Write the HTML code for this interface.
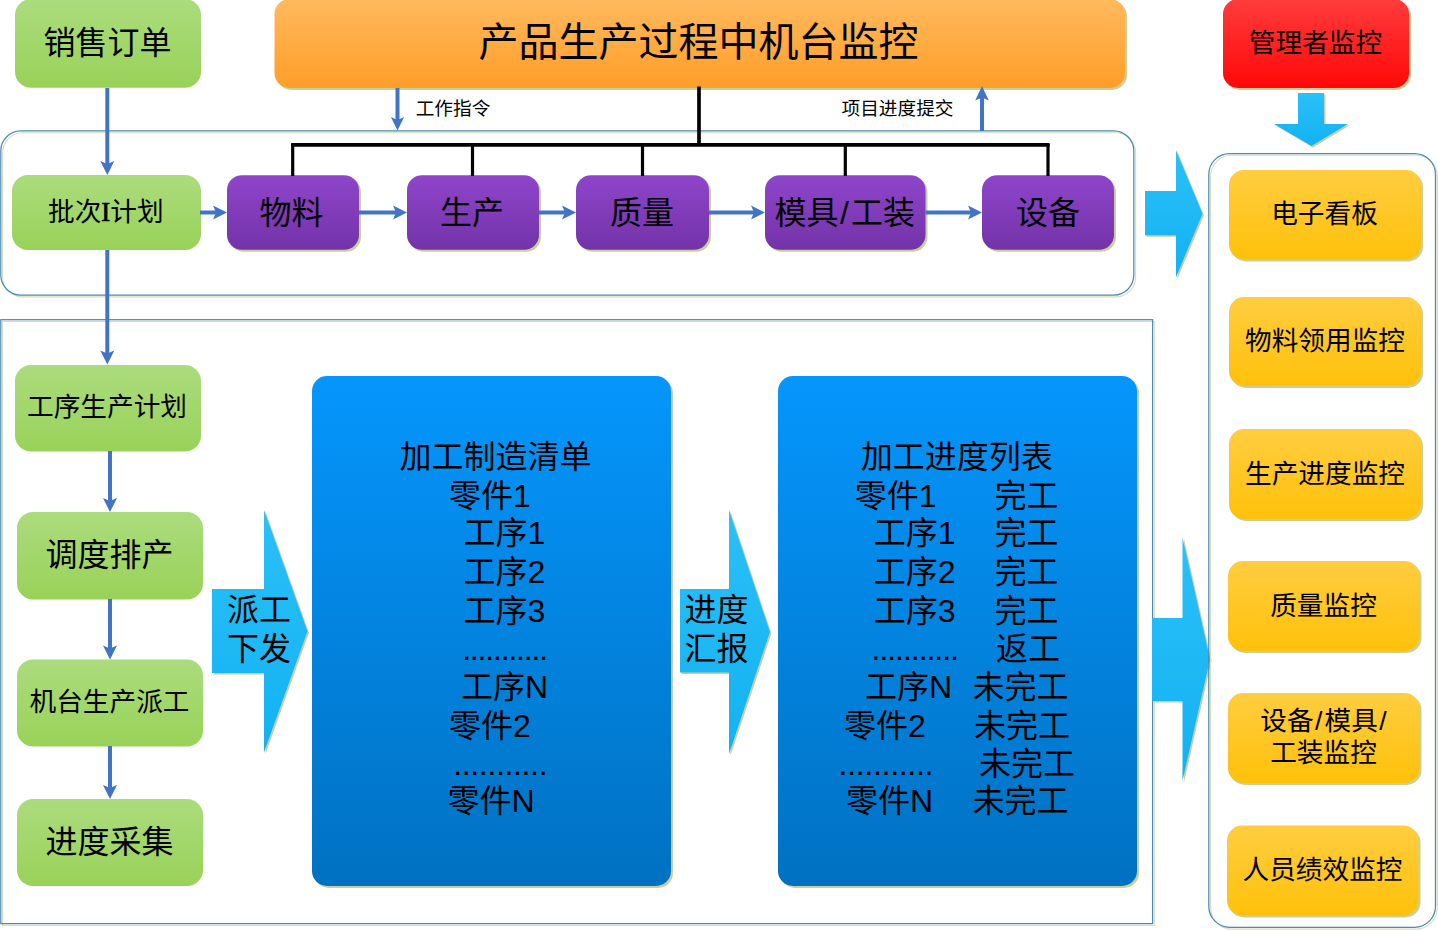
<!DOCTYPE html>
<html lang="zh-CN">
<head>
<meta charset="utf-8">
<title>产品生产过程中机台监控</title>
<style>
html,body{margin:0;padding:0;background:#fff;}
body{width:1438px;height:930px;overflow:hidden;}
svg{display:block;}
text{font-family:"Liberation Sans", "Noto Sans CJK SC", sans-serif;fill:#000;}
</style>
</head>
<body>
<svg width="1438" height="930" viewBox="0 0 1438 930">
<defs>
<linearGradient id="ggreen" x1="0" y1="0" x2="0" y2="1"><stop offset="0" stop-color="#abdc7d"/><stop offset="1" stop-color="#99d259"/></linearGradient>
<linearGradient id="gorange" x1="0" y1="0" x2="0" y2="1"><stop offset="0" stop-color="#ffb95e"/><stop offset="1" stop-color="#ff9e28"/></linearGradient>
<linearGradient id="gred" x1="0" y1="0" x2="0" y2="1"><stop offset="0" stop-color="#ff3c3c"/><stop offset="1" stop-color="#ff0808"/></linearGradient>
<linearGradient id="gpurple" x1="0" y1="0" x2="0" y2="1"><stop offset="0" stop-color="#8e45ca"/><stop offset="1" stop-color="#7333a8"/></linearGradient>
<linearGradient id="gyellow" x1="0" y1="0" x2="0" y2="1"><stop offset="0" stop-color="#ffcd40"/><stop offset="1" stop-color="#ffc10a"/></linearGradient>
<linearGradient id="gblue" x1="0" y1="0" x2="0" y2="1"><stop offset="0" stop-color="#0596fc"/><stop offset="1" stop-color="#0071c2"/></linearGradient>
<linearGradient id="gcyan" x1="0" y1="0" x2="0" y2="1"><stop offset="0" stop-color="#2bc0f8"/><stop offset="1" stop-color="#12b2f2"/></linearGradient>
</defs>
<rect x="0" y="0" width="1438" height="930" fill="#ffffff"/>

<rect x="2.6" y="132.70000000000002" width="1133" height="164.2" rx="20" ry="20" fill="none" stroke="#d3e0bd" stroke-width="1.1"/>
<rect x="0.8" y="130.9" width="1133" height="164.2" rx="20" ry="20" fill="none" stroke="#4d89b5" stroke-width="1.25"/>
<rect x="2.6" y="321.5" width="1151.8" height="603.9" rx="0" ry="0" fill="none" stroke="#d3e0bd" stroke-width="1.1"/>
<rect x="0.8" y="319.7" width="1151.8" height="603.9" rx="0" ry="0" fill="none" stroke="#4d89b5" stroke-width="1.25"/>
<polygon points="1145,191 1176,191 1176,150.3 1202.5,213.8 1176,277.3 1176,235.3 1145,235.3" fill="#c8d098" transform="translate(1.5,1.5)"/>
<polygon points="1145,191 1176,191 1176,150.3 1202.5,213.8 1176,277.3 1176,235.3 1145,235.3" fill="url(#gcyan)"/>
<polygon points="1152,618 1182.5,618 1182.5,537.5 1210,659.25 1182.5,781 1182.5,701 1152,701" fill="#c8d098" transform="translate(1.5,1.5)"/>
<polygon points="1152,618 1182.5,618 1182.5,537.5 1210,659.25 1182.5,781 1182.5,701 1152,701" fill="url(#gcyan)"/>
<rect x="1210.6" y="155.3" width="226.7" height="773.8" rx="21" ry="21" fill="none" stroke="#d3e0bd" stroke-width="1.1"/>
<rect x="1208.8" y="153.5" width="226.7" height="773.8" rx="21" ry="21" fill="none" stroke="#4d89b5" stroke-width="1.25"/>
<rect x="15" y="-1" width="186" height="88.8" rx="16" ry="16" fill="url(#ggreen)"/>
<rect x="276.5" y="1" width="850.5" height="89" rx="15" ry="15" fill="#c8d098"/><rect x="274.5" y="-1" width="850.5" height="89" rx="15" ry="15" fill="url(#gorange)"/>
<rect x="1225" y="1" width="186" height="89" rx="15" ry="15" fill="#c8d098"/><rect x="1223" y="-1" width="186" height="89" rx="15" ry="15" fill="url(#gred)"/>
<rect x="12" y="175" width="189" height="75" rx="16" ry="16" fill="url(#ggreen)"/>
<rect x="15" y="365" width="186" height="86.5" rx="16" ry="16" fill="url(#ggreen)"/>
<rect x="17" y="512" width="186" height="87.5" rx="16" ry="16" fill="url(#ggreen)"/>
<rect x="17" y="659.5" width="186" height="87" rx="16" ry="16" fill="url(#ggreen)"/>
<rect x="17" y="799" width="186" height="87" rx="16" ry="16" fill="url(#ggreen)"/>
<rect x="229" y="177.2" width="132" height="74.6" rx="15" ry="15" fill="#c8d098"/><rect x="227" y="175.2" width="132" height="74.6" rx="15" ry="15" fill="url(#gpurple)"/>
<rect x="409" y="177.2" width="132" height="74.6" rx="15" ry="15" fill="#c8d098"/><rect x="407" y="175.2" width="132" height="74.6" rx="15" ry="15" fill="url(#gpurple)"/>
<rect x="578" y="177.2" width="133" height="74.6" rx="15" ry="15" fill="#c8d098"/><rect x="576" y="175.2" width="133" height="74.6" rx="15" ry="15" fill="url(#gpurple)"/>
<rect x="767" y="177.2" width="160.5" height="74.6" rx="15" ry="15" fill="#c8d098"/><rect x="765" y="175.2" width="160.5" height="74.6" rx="15" ry="15" fill="url(#gpurple)"/>
<rect x="984" y="177.2" width="132" height="74.6" rx="15" ry="15" fill="#c8d098"/><rect x="982" y="175.2" width="132" height="74.6" rx="15" ry="15" fill="url(#gpurple)"/>
<rect x="1231" y="172" width="192" height="89.5" rx="15" ry="15" fill="#c8d098"/><rect x="1229" y="170" width="192" height="89.5" rx="15" ry="15" fill="url(#gyellow)"/>
<rect x="1231" y="299" width="192" height="89" rx="15" ry="15" fill="#c8d098"/><rect x="1229" y="297" width="192" height="89" rx="15" ry="15" fill="url(#gyellow)"/>
<rect x="1231" y="431" width="192" height="90" rx="15" ry="15" fill="#c8d098"/><rect x="1229" y="429" width="192" height="90" rx="15" ry="15" fill="url(#gyellow)"/>
<rect x="1230" y="563" width="191.5" height="90" rx="15" ry="15" fill="#c8d098"/><rect x="1228" y="561" width="191.5" height="90" rx="15" ry="15" fill="url(#gyellow)"/>
<rect x="1230" y="695" width="191.5" height="90" rx="15" ry="15" fill="#c8d098"/><rect x="1228" y="693" width="191.5" height="90" rx="15" ry="15" fill="url(#gyellow)"/>
<rect x="1229" y="827.5" width="191.5" height="90.0" rx="15" ry="15" fill="#c8d098"/><rect x="1227" y="825.5" width="191.5" height="90.0" rx="15" ry="15" fill="url(#gyellow)"/>
<rect x="314" y="378" width="359" height="510" rx="15" ry="15" fill="#c8d098"/><rect x="312" y="376" width="359" height="510" rx="15" ry="15" fill="url(#gblue)"/>
<rect x="780" y="378" width="359" height="510" rx="15" ry="15" fill="#c8d098"/><rect x="778" y="376" width="359" height="510" rx="15" ry="15" fill="url(#gblue)"/>
<g stroke="#000" fill="none" stroke-linecap="butt">
<line x1="291.2" y1="144.8" x2="1049.6" y2="144.8" stroke-width="3.8"/>
<line x1="699" y1="86.5" x2="699" y2="146" stroke-width="3.7"/>
<line x1="292.7" y1="144" x2="292.7" y2="176" stroke-width="3.2"/>
<line x1="472.5" y1="144" x2="472.5" y2="176" stroke-width="3.2"/>
<line x1="642.5" y1="144" x2="642.5" y2="176" stroke-width="3.2"/>
<line x1="845.3" y1="144" x2="845.3" y2="176" stroke-width="3.2"/>
<line x1="1048" y1="144" x2="1048" y2="176" stroke-width="3.2"/>
</g>
<polygon points="212,589 264,589 264,510 307.5,631.25 264,752.5 264,673 212,673" fill="#c8d098" transform="translate(1.5,1.5)"/>
<polygon points="212,589 264,589 264,510 307.5,631.25 264,752.5 264,673 212,673" fill="url(#gcyan)"/>
<polygon points="680,589 729,589 729,510 770,632.0 729,754 729,672.5 680,672.5" fill="#c8d098" transform="translate(1.5,1.5)"/>
<polygon points="680,589 729,589 729,510 770,632.0 729,754 729,672.5 680,672.5" fill="url(#gcyan)"/>
<polygon points="1298,93 1324,93 1324,124 1348,124 1311.5,146 1274,124 1298,124" fill="#c8d098" transform="translate(1.5,1.5)"/>
<polygon points="1298,93 1324,93 1324,124 1348,124 1311.5,146 1274,124 1298,124" fill="url(#gcyan)"/>
<line x1="107.3" y1="88" x2="107.3" y2="166.6" stroke="#4274c4" stroke-width="4.0"/>
<polygon points="100.3,161 107.3,175 114.3,161 107.3,164" fill="#4274c4"/>
<line x1="107.3" y1="250" x2="107.3" y2="356.1" stroke="#4274c4" stroke-width="4.0"/>
<polygon points="100.3,350.5 107.3,364.5 114.3,350.5 107.3,353.5" fill="#4274c4"/>
<line x1="110" y1="451" x2="110" y2="503.6" stroke="#4274c4" stroke-width="4.0"/>
<polygon points="103,498 110,512 117,498 110,501" fill="#4274c4"/>
<line x1="110" y1="599" x2="110" y2="651.1" stroke="#4274c4" stroke-width="4.0"/>
<polygon points="103,645.5 110,659.5 117,645.5 110,648.5" fill="#4274c4"/>
<line x1="110" y1="746" x2="110" y2="790.6" stroke="#4274c4" stroke-width="4.0"/>
<polygon points="103,785 110,799 117,785 110,788" fill="#4274c4"/>
<line x1="397.5" y1="88" x2="397.5" y2="122.4" stroke="#4274c4" stroke-width="4.0"/>
<polygon points="390.9,117.0 397.5,130.5 404.1,117.0 397.5,120.0" fill="#4274c4"/>
<line x1="982" y1="131" x2="982" y2="94.7" stroke="#4274c4" stroke-width="4.0"/>
<polygon points="975.2,100.5 982,86 988.8,100.5 982,97.5" fill="#4274c4"/>
<line x1="200" y1="212.5" x2="218.6" y2="212.5" stroke="#4274c4" stroke-width="4.0"/>
<polygon points="213,205.5 227,212.5 213,219.5 216,212.5" fill="#4274c4"/>
<line x1="359" y1="212.5" x2="398.6" y2="212.5" stroke="#4274c4" stroke-width="4.0"/>
<polygon points="393,205.5 407,212.5 393,219.5 396,212.5" fill="#4274c4"/>
<line x1="539" y1="212.5" x2="567.6" y2="212.5" stroke="#4274c4" stroke-width="4.0"/>
<polygon points="562,205.5 576,212.5 562,219.5 565,212.5" fill="#4274c4"/>
<line x1="709" y1="212.5" x2="756.6" y2="212.5" stroke="#4274c4" stroke-width="4.0"/>
<polygon points="751,205.5 765,212.5 751,219.5 754,212.5" fill="#4274c4"/>
<line x1="925.5" y1="212.5" x2="973.6" y2="212.5" stroke="#4274c4" stroke-width="4.0"/>
<polygon points="968,205.5 982,212.5 968,219.5 971,212.5" fill="#4274c4"/>
<text x="107.5" y="53.52" font-size="32" text-anchor="middle" >销售订单</text>
<text x="698.5" y="55.90" font-size="40" text-anchor="middle" >产品生产过程中机台监控</text>
<text x="1315.5" y="51.90" font-size="26.67" text-anchor="middle" >管理者监控</text>
<text x="453" y="114.72" font-size="18.67" text-anchor="middle" >工作指令</text>
<text x="897.5" y="114.72" font-size="18.67" text-anchor="middle" >项目进度提交</text>
<text x="105.8" y="220.80" font-size="26.67" text-anchor="middle" >批次<tspan font-family="Liberation Serif, serif" stroke="#000" stroke-width="0.7">I</tspan>计划</text>
<text x="291.5" y="223.52" font-size="32" text-anchor="middle" >物料</text>
<text x="472" y="223.52" font-size="32" text-anchor="middle" >生产</text>
<text x="642" y="223.52" font-size="32" text-anchor="middle" >质量</text>
<text x="844.7" y="223.52" font-size="32" text-anchor="middle" >模具<tspan dx="1.5">/</tspan><tspan dx="2">工装</tspan></text>
<text x="1048" y="223.52" font-size="32" text-anchor="middle" >设备</text>
<text x="107" y="415.90" font-size="26.67" text-anchor="middle" >工序生产计划</text>
<text x="109.5" y="566.02" font-size="32" text-anchor="middle" >调度排产</text>
<text x="109.5" y="711.10" font-size="26.67" text-anchor="middle" >机台生产派工</text>
<text x="109.5" y="852.52" font-size="32" text-anchor="middle" >进度采集</text>
<text x="259" y="621.02" font-size="32" text-anchor="middle" >派工</text>
<text x="259" y="660.02" font-size="32" text-anchor="middle" >下发</text>
<text x="716.5" y="621.02" font-size="32" text-anchor="middle" >进度</text>
<text x="716.5" y="660.02" font-size="32" text-anchor="middle" >汇报</text>
<text x="1324.5" y="222.60" font-size="26.67" text-anchor="middle" >电子看板</text>
<text x="1325" y="349.60" font-size="26.67" text-anchor="middle" >物料领用监控</text>
<text x="1325" y="482.80" font-size="26.67" text-anchor="middle" >生产进度监控</text>
<text x="1323.5" y="614.60" font-size="26.67" text-anchor="middle" >质量监控</text>
<text x="1322.5" y="878.60" font-size="26.67" text-anchor="middle" >人员绩效监控</text>
<text x="1323.5" y="730.10" font-size="26.67" text-anchor="middle" >设备<tspan dx="1.5">/</tspan><tspan dx="2">模具</tspan><tspan dx="1.5">/</tspan></text>
<text x="1323.5" y="762.10" font-size="26.67" text-anchor="middle" >工装监控</text>
<text x="495.5" y="467.52" font-size="32" text-anchor="middle" >加工制造清单</text>
<text x="490" y="506.52" font-size="32" text-anchor="middle" >零件1</text>
<text x="504.5" y="544.02" font-size="32" text-anchor="middle" >工序1</text>
<text x="504.5" y="582.52" font-size="32" text-anchor="middle" >工序2</text>
<text x="504.5" y="621.52" font-size="32" text-anchor="middle" >工序3</text>
<text x="462.15 469.86 477.57 485.28 492.99 500.70 508.41 516.12 523.83 531.54 539.25" y="659.50" font-size="32">...........</text>
<text x="504.5" y="698.02" font-size="32" text-anchor="middle" >工序N</text>
<text x="490" y="736.52" font-size="32" text-anchor="middle" >零件2</text>
<text x="453.25 461.79 470.33 478.87 487.41 495.95 504.49 513.03 521.57 530.11 538.65" y="774.70" font-size="32">...........</text>
<text x="491" y="812.02" font-size="32" text-anchor="middle" >零件N</text>
<text x="956.7" y="467.52" font-size="32" text-anchor="middle" >加工进度列表</text>
<text x="895.7" y="506.52" font-size="32" text-anchor="middle" >零件1</text>
<text x="1026.5" y="506.52" font-size="32" text-anchor="middle" >完工</text>
<text x="914.7" y="544.02" font-size="32" text-anchor="middle" >工序1</text>
<text x="1026.5" y="544.02" font-size="32" text-anchor="middle" >完工</text>
<text x="914.7" y="582.52" font-size="32" text-anchor="middle" >工序2</text>
<text x="1026.5" y="582.52" font-size="32" text-anchor="middle" >完工</text>
<text x="914.7" y="621.52" font-size="32" text-anchor="middle" >工序3</text>
<text x="1026.5" y="621.52" font-size="32" text-anchor="middle" >完工</text>
<text x="871.55 879.40 887.25 895.10 902.95 910.80 918.65 926.50 934.35 942.20 950.05" y="659.50" font-size="32">...........</text>
<text x="1028" y="660.02" font-size="32" text-anchor="middle" >返工</text>
<text x="908.5" y="698.02" font-size="32" text-anchor="middle" >工序N</text>
<text x="1020.5" y="698.02" font-size="32" text-anchor="middle" >未完工</text>
<text x="885" y="736.52" font-size="32" text-anchor="middle" >零件2</text>
<text x="1022" y="736.52" font-size="32" text-anchor="middle" >未完工</text>
<text x="838.55 847.15 855.75 864.35 872.95 881.55 890.15 898.75 907.35 915.95 924.55" y="774.70" font-size="32">...........</text>
<text x="1027" y="775.02" font-size="32" text-anchor="middle" >未完工</text>
<text x="889.5" y="812.02" font-size="32" text-anchor="middle" >零件N</text>
<text x="1020.5" y="812.02" font-size="32" text-anchor="middle" >未完工</text>
</svg>
</body>
</html>
